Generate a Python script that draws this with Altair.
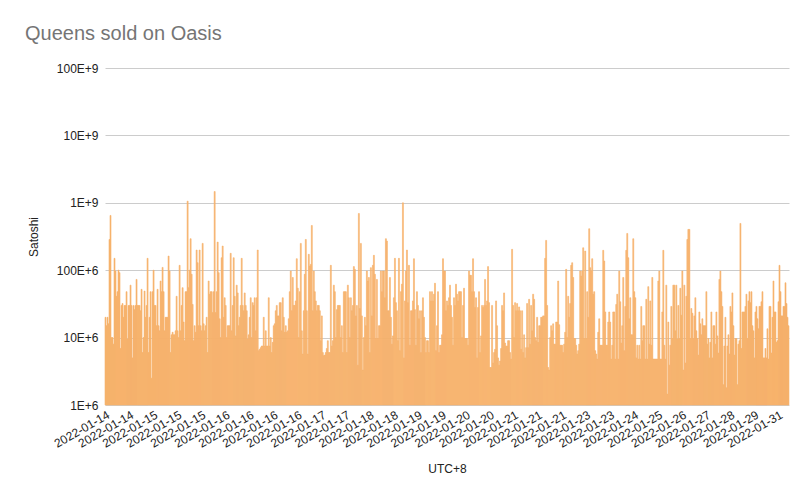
import altair as alt
import pandas as pd

# Sale values in millions of satoshi, read bar by bar from left to right
seg1 = [20, 15, 20, 16, 286, 649, 10, 10, 8, 150, 97, 41, 48, 100, 92, 6.9, 30, 32, 20, 30, 30, 48, 9.5, 30, 30, 60, 30, 5, 30, 26,
        30, 73, 30, 30, 30, 25, 52, 6, 10, 49, 20, 30, 150, 6, 20, 48, 2.5, 48, 100, 30, 30, 15, 52, 15, 12.6, 69, 48, 110, 48, 12.6,
        20, 20, 20, 162, 97, 6, 11, 12, 11, 11, 12.6, 41, 12.6, 10, 118, 12.6, 30, 55, 17, 9, 48, 48, 1057, 55, 100, 293, 87, 31, 9, 15,
        12, 199, 129, 15, 199, 15, 12.6, 250, 16, 12.6, 15, 20, 6, 69, 44, 48, 48, 23.5, 48, 1469, 23.5, 48, 261, 92, 19, 10, 153, 228,
        20, 39, 30, 10, 15, 15, 15, 178, 12.6, 30, 153, 41, 10.6, 60, 46, 15, 20, 30, 150, 30, 25, 46, 30, 25, 9.5, 11, 20, 39,
        10, 33, 30, 39, 12.6, 39, 199, 6.4, 6.7, 7.1, 7.5, 7.5, 20, 7.5, 12.6, 7.5, 7.5, 39, 7.5, 10, 6, 8.5, 15, 16, 25, 30,
        21, 21, 33, 33, 12.6, 39, 20, 12, 15, 12, 12.6, 19, 48, 97, 25, 78, 30, 30, 35, 148, 54, 10, 48, 250, 12.6, 5.7, 25, 87,
        286, 25, 5.7, 172, 115, 122, 461, 25, 97, 48, 35, 25, 30, 30, 25, 9, 21, 6, 5.4, 5.5, 6, 6.9, 9, 6, 6]
seg2 = [118, 7.5, 9, 60, 48, 10, 26, 30, 30, 30, 10, 15, 6, 48, 48, 48, 6, 60, 39, 10, 39, 25, 30, 113, 103, 21, 30, 3.9, 695, 27,
        250, 21, 3.3, 10, 20, 15, 97, 69, 78, 6, 109, 21, 118, 166, 87, 9.7, 73, 9.7, 15, 15, 97, 48, 97, 97, 39, 293, 271, 25, 25, 78,
        20, 8, 10.6, 39, 150, 33, 25, 9, 150, 6.4, 48, 62, 1000, 5, 35, 97, 199, 33, 118, 7.7, 25, 25, 35, 148, 26, 7.7, 48, 30, 19, 25,
        6, 25, 39, 20, 10, 6, 9, 9, 6, 48, 35, 48, 35, 44, 64, 6.4, 15, 48, 6, 7.7, 7.7, 11, 148, 97, 97, 25, 35, 30, 39, 60,
        30, 20, 7.7, 39, 30, 62, 44, 35, 48, 48, 48, 10, 30, 54, 9.7, 9.7, 9.7, 7.7, 97, 84, 84, 48, 148, 48, 28, 39, 5, 28, 48, 6,
        10.6, 30, 28, 30, 73, 30, 35, 113, 33, 3.6, 3.6, 30, 4.2, 6, 6.7, 35, 15, 5, 3.9, 4.5, 6.9, 30, 25, 46, 8.3, 7.5, 7.5, 9, 9,
        6, 4.8, 204, 30, 10, 33, 25, 32, 25, 28.5, 25, 6.7, 25, 6, 11, 5, 7.1, 32, 7.1, 37, 8, 30, 12.6, 44, 37, 10, 9, 20, 8.5, 15,
        15, 20, 20, 21, 21, 150, 277, 30, 3.6, 3.3, 10, 15, 12.6, 16, 8, 8, 17, 17, 69, 15.5]
seg3 = [7.7, 7.7, 7.7, 6, 8, 12, 103, 10, 41, 20, 32, 118, 129, 78, 9.7, 9.7, 7.7, 5.7, 6.4, 8, 97, 82, 97, 215, 9.7, 192, 9.7, 48, 20, 412,
        109, 97, 148, 44, 48, 6.4, 5.7, 4.8, 12, 19, 7.7, 7.7, 7.7, 197, 137, 24, 7.7, 7.7, 17, 24, 17, 4.8, 7.7, 24, 24, 4.8, 31, 44, 4.8, 97,
        34, 8.3, 15, 78, 6.4, 29, 197, 351, 153, 19, 39, 11, 11, 293, 48, 39, 5, 7.7, 4.8, 7.7, 4.8, 29, 9, 15, 15, 4.8, 37, 4.8, 57, 8,
        35, 7.7, 78, 4.8, 4.8, 4.8, 4.8, 4.8, 69, 97, 4.8, 4.8, 24, 197, 7.7, 4.8, 60, 1.45, 17, 3.9, 7.7, 29, 9.7, 60, 60, 12.6, 60, 9.5,
        30, 9.7, 54, 21.5, 97, 3.3, 60, 4.2, 41, 286, 403, 403, 9.7, 27, 23, 9.7, 21, 39, 12.6, 9.7, 5.5, 24, 16, 11, 19, 15, 15, 15,
        48, 8, 9.7, 5, 8.5, 24, 5, 15, 15, 8, 24, 10.6, 5.9, 73, 97, 48, 29, 2.0, 7.5, 20, 1.8, 7.5, 11, 5.7, 29, 24, 46, 15, 5.5, 9.7,
        9.7, 2.0, 8, 9, 494, 6.9, 24, 24, 24, 29, 44, 9.7, 35, 48, 33, 48, 15, 12.6, 5, 24, 29, 19, 13.5, 29, 29, 34, 48, 5, 5, 6.9,
        5, 13.5, 4.8, 29, 29, 5.9, 20, 69, 24, 24, 8.5, 9, 34, 118, 48, 21, 21, 29, 29, 65, 32, 20, 15]

tick_labels = ['2022-01-14', '2022-01-14', '2022-01-15', '2022-01-15', '2022-01-15', '2022-01-16', '2022-01-16',
               '2022-01-16', '2022-01-16', '2022-01-17', '2022-01-17', '2022-01-18', '2022-01-18', '2022-01-19',
               '2022-01-19', '2022-01-20', '2022-01-20', '2022-01-21', '2022-01-21', '2022-01-21', '2022-01-23',
               '2022-01-23', '2022-01-24', '2022-01-25', '2022-01-26', '2022-01-27', '2022-01-28', '2022-01-29',
               '2022-01-31']
label_step = 24
y_ticks = [1e6, 1e7, 1e8, 1e9, 1e10, 1e11]
y_tick_labels = ['1E+6', '10E+6', '100E+6', '1E+9', '10E+9', '100E+9']

values_m = seg1 + seg2 + seg3
n = len(values_m)
df = pd.DataFrame({
    'i': list(range(n)),
    'i2': [k + 1 for k in range(n)],
    'satoshi': [v * 1e6 for v in values_m],
    'base': [1e6] * n,
})

x_label_expr = str(tick_labels) + f"[floor(datum.value / {label_step})]"
y_label_expr = str(y_tick_labels) + "[round(log(datum.value) / LN10) - 6]"

FONT = 'Liberation Sans'
BAR = '#F6B26B'

chart = alt.Chart(df).mark_rect(color=BAR, stroke=BAR, strokeWidth=0.6).encode(
    x=alt.X('i:Q',
            scale=alt.Scale(domain=[0, n], nice=False, zero=False),
            axis=alt.Axis(values=[k * label_step + 0.5 for k in range(len(tick_labels))],
                          labelExpr=x_label_expr, labelAngle=-30, labelAlign='right',
                          labelBaseline='top', ticks=False, domain=False, grid=False,
                          labelFont=FONT, labelFontSize=12, labelColor='#222222', labelPadding=4,
                          labelOverlap=False, labelFlush=False,
                          title='UTC+8', titleFont=FONT, titleFontSize=12, titleFontWeight='normal',
                          titleColor='#222222', titlePadding=14)),
    x2='i2',
    y=alt.Y('satoshi:Q',
            scale=alt.Scale(type='log', domain=[1e6, 1e11], nice=False),
            axis=alt.Axis(values=y_ticks, labelExpr=y_label_expr, grid=True, gridColor='#cccccc',
                          domain=False, ticks=False, labelFont=FONT, labelFontSize=12,
                          labelColor='#222222', labelPadding=7,
                          title='Satoshi', titleFont=FONT, titleFontSize=12, titleFontWeight='normal',
                          titleColor='#222222', titlePadding=16)),
    y2='base',
).properties(
    width=684, height=337,
    title=alt.TitleParams('Queens sold on Oasis', anchor='start', frame='group', dx=-80,
                          font=FONT, fontSize=20, fontWeight='normal', color='#757575', offset=18),
    autosize='none',
    padding={'left': 97, 'top': 60, 'right': 14, 'bottom': 88},
).configure_view(stroke=None)

chart.save("out.html", embed_options={"renderer": "svg", "actions": False})
